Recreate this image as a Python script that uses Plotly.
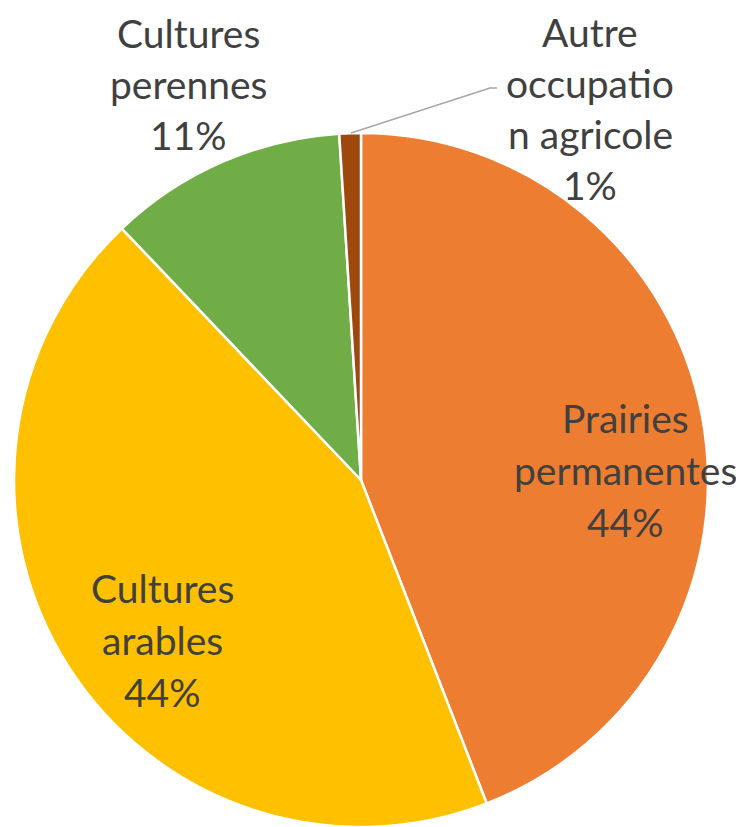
import plotly.graph_objects as go

categories = ["Prairies permanentes", "Cultures arables", "Cultures perennes", "Autre occupation agricole"]
label_lines = [["Prairies", "permanentes"], ["Cultures", "arables"], ["Cultures", "perennes"], ["Autre", "occupatio", "n agricole"]]
values = [44.1, 43.8, 11.1, 1.0]
pct_labels = ["44%", "44%", "11%", "1%"]
colors = ["#ED7D31", "#FFC000", "#70AD47", "#9E480E"]

W, H = 744, 827
OFF = 8  # page body margin
cx, cy, r = 361 - OFF, 480 - OFF, 347

fig = go.Figure(go.Pie(
    labels=categories, values=values, sort=False, direction="clockwise", rotation=0,
    marker=dict(colors=colors, line=dict(color="white", width=2.5)),
    textinfo="none", hoverinfo="label+percent", showlegend=False,
    domain=dict(x=[(cx - r) / W, (cx + r) / W], y=[(H - cy - r) / H, (H - cy + r) / H]),
))

# label anchor positions (pixel centers of first line, in page coords)
label_pos = [(625, 418), (162, 588), (188, 33), (590, 32)]
line_h = [52, 52, 51, 51]
font = dict(family="Lato", size=39, color="#404040")
for lines, pct, (lx, ly), lh in zip(label_lines, pct_labels, label_pos, line_h):
    alllines = lines + [pct]
    for i, t in enumerate(alllines):
        fig.add_annotation(x=(lx - OFF) / W, y=1 - (ly - OFF + i * lh) / H, xref="paper", yref="paper",
                           text=t, showarrow=False, font=font, xanchor="center", yanchor="middle")

# leader line for the small slice
pts = [(351, 133), (490, 88), (497, 88)]
path = "M " + " L ".join(f"{(x - OFF)/W} {1-(y - OFF)/H}" for x, y in pts)
fig.add_shape(type="path", xref="paper", yref="paper", path=path,
              line=dict(color="#A6A6A6", width=1.5))

fig.update_layout(width=W, height=H, margin=dict(l=0, r=0, t=0, b=0),
                  paper_bgcolor="white", plot_bgcolor="white")
fig.write_html("out.html")
